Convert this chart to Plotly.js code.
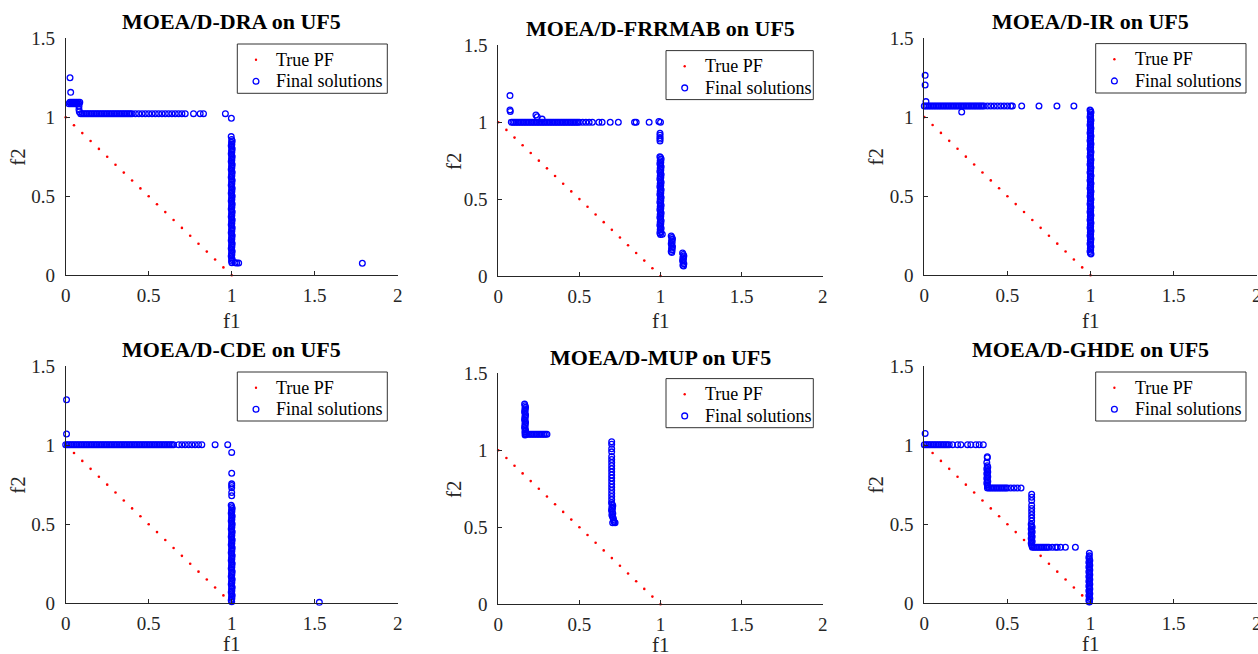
<!DOCTYPE html>
<html>
<head>
<meta charset="utf-8">
<script src="https://cdn.plot.ly/plotly-3.0.1.min.js"></script>
<style>html,body{margin:0;padding:0;background:#fff;}#chart{width:1258px;height:654px;}</style>
</head>
<body>
<div id="chart"></div>
<script>
// ---------------- data ----------------
const algorithms = ['MOEA/D-DRA','MOEA/D-FRRMAB','MOEA/D-IR','MOEA/D-CDE','MOEA/D-MUP','MOEA/D-GHDE'];
const problem = 'UF5';
const seriesNames = ['True PF','Final solutions'];
const xTickVals = [0,0.5,1,1.5,2];
const xTickText = ['0','0.5','1','1.5','2'];
const yTickVals = [0,0.5,1,1.5];
const yTickText = ['0','0.5','1','1.5'];

// True Pareto front of UF5 (21 points)
const pf_f1 = [0,0.05,0.1,0.15,0.2,0.25,0.3,0.35,0.4,0.45,0.5,0.55,0.6,0.65,0.7,0.75,0.8,0.85,0.9,0.95,1];
const pf_f2 = [1,0.95,0.9,0.85,0.8,0.75,0.7,0.65,0.6,0.55,0.5,0.45,0.4,0.35,0.3,0.25,0.2,0.15,0.1,0.05,0];

// MOEA/D-DRA
const dra_f1 = [
0.026,0.03,
0.02,0.025,0.03,0.035,0.04,0.045,0.05,0.055,0.06,0.065,0.07,0.075,0.08,0.085,
0.08,0.08,0.082,
0.09,0.10,0.11,0.12,0.13,0.14,0.15,0.16,0.17,0.18,0.19,0.20,0.21,0.22,0.23,0.24,0.25,0.26,0.27,0.28,0.29,0.30,0.31,0.32,0.33,0.34,0.35,0.36,0.37,0.38,0.39,0.40,
0.42,0.44,0.46,0.48,0.50,0.52,0.54,0.56,0.58,0.60,0.62,0.64,0.66,0.68,0.70,0.72,0.77,0.81,0.83,
0.962,0.998,
0.997,1.0,1.003,0.999,1.001,0.997,1.0,1.003,0.999,1.001,
0.997,1.0,1.003,0.999,1.001,0.997,1.0,1.003,0.999,1.001,
0.997,1.0,1.003,0.999,1.001,0.997,1.0,1.003,0.999,1.001,
0.997,1.0,1.003,0.999,1.001,0.997,1.0,1.003,0.999,1.001,
0.997,1.0,1.003,0.999,1.001,0.997,1.0,1.003,0.999,1.001,
0.997,1.0,1.003,0.999,1.001,0.997,1.0,1.003,0.999,1.001,
0.997,1.0,1.003,0.999,1.001,0.997,1.0,1.003,0.999,1.001,
0.997,1.0,1.003,0.999,1.001,0.997,1.0,1.003,0.999,1.001,
1.02,1.03,1.042,1.787];
const dra_f2 = [
1.25,1.158,
1.085,1.095,1.085,1.095,1.085,1.095,1.085,1.095,1.085,1.095,1.085,1.095,1.085,1.095,
1.07,1.05,1.035,
1.023,1.023,1.023,1.023,1.023,1.023,1.023,1.023,1.023,1.023,
1.023,1.023,1.023,1.023,1.023,1.023,1.023,1.023,1.023,1.023,
1.023,1.023,1.023,1.023,1.023,1.023,1.023,1.023,1.023,1.023,
1.023,1.023,1.023,1.023,1.023,1.023,1.023,1.023,1.023,1.023,
1.023,1.023,1.023,1.023,1.023,1.023,1.023,1.023,1.023,1.023,
1.023,
1.023,0.994,
0.878,0.86,0.85,0.84,0.83,0.82,0.81,0.80,0.79,0.78,
0.77,0.76,0.75,0.74,0.73,0.72,0.71,0.70,0.69,0.68,
0.67,0.66,0.65,0.64,0.63,0.62,0.61,0.60,0.59,0.58,
0.57,0.56,0.55,0.54,0.53,0.52,0.51,0.50,0.49,0.48,
0.47,0.46,0.45,0.44,0.43,0.42,0.41,0.40,0.39,0.38,
0.37,0.36,0.35,0.34,0.33,0.32,0.31,0.30,0.29,0.28,
0.27,0.26,0.25,0.24,0.23,0.22,0.21,0.20,0.19,0.18,
0.17,0.16,0.15,0.14,0.13,0.12,0.11,0.10,0.09,0.08,
0.08,0.078,0.078,0.076];

// MOEA/D-FRRMAB
const frr_f1 = [
0.072,0.072,0.074,
0.08,0.09,0.10,0.11,0.12,0.13,0.14,0.15,0.16,0.17,
0.18,0.19,0.20,0.21,0.22,0.23,0.24,0.25,0.26,0.27,
0.28,0.29,0.30,0.31,0.32,0.33,0.34,0.35,0.36,0.37,
0.38,0.39,0.40,0.41,0.42,0.43,0.44,0.45,0.46,0.47,
0.48,0.49,0.50,
0.52,0.54,0.56,0.58,0.62,0.64,0.69,0.74,0.84,0.85,0.93,0.99,1.0,
0.232,0.24,0.27,
0.997,0.997,0.997,0.997,0.997,
0.996,1.0,1.004,0.998,1.002,0.996,1.0,1.004,0.998,1.002,
0.996,1.0,1.004,0.998,1.002,0.996,1.0,1.004,0.998,1.002,
0.996,1.0,1.004,0.998,1.002,0.996,1.0,1.004,0.998,1.002,
0.996,1.0,1.004,0.998,1.002,0.996,1.0,1.004,0.998,1.002,
0.996,1.0,1.004,0.998,1.002,0.996,1.0,1.004,0.998,1.002,
0.996,1.0,
1.011,
1.066,1.07,1.074,1.068,1.072,1.066,1.07,1.074,1.068,1.072,1.066,1.07,
1.136,1.14,1.144,1.138,1.142,1.136,1.14,1.144,1.138,1.142];
const frr_f2 = [
1.173,1.08,1.07,
1.0,1.0,1.0,1.0,1.0,1.0,1.0,1.0,1.0,1.0,
1.0,1.0,1.0,1.0,1.0,1.0,1.0,1.0,1.0,1.0,
1.0,1.0,1.0,1.0,1.0,1.0,1.0,1.0,1.0,1.0,
1.0,1.0,1.0,1.0,1.0,1.0,1.0,1.0,1.0,1.0,
1.0,1.0,1.0,
1.0,1.0,1.0,1.0,1.0,1.0,1.0,1.0,1.0,1.0,1.0,1.005,1.0,
1.047,1.035,1.02,
0.928,0.915,0.90,0.89,0.878,
0.776,0.77,0.76,0.75,0.74,0.73,0.72,0.71,0.70,0.69,
0.68,0.67,0.66,0.65,0.64,0.63,0.62,0.61,0.60,0.59,
0.58,0.57,0.56,0.55,0.54,0.53,0.52,0.51,0.50,0.49,
0.48,0.47,0.46,0.45,0.44,0.43,0.42,0.41,0.40,0.39,
0.38,0.37,0.36,0.35,0.34,0.33,0.32,0.31,0.30,0.29,
0.28,0.27,
0.271,
0.26,0.25,0.24,0.23,0.22,0.21,0.20,0.19,0.18,0.17,0.16,0.152,
0.15,0.14,0.13,0.12,0.11,0.10,0.09,0.08,0.07,0.065];

// MOEA/D-IR
const ir_f1 = [
0.005,0.005,0.01,
0.00,0.01,0.02,0.03,0.04,0.05,0.06,0.07,0.08,0.09,
0.10,0.11,0.12,0.13,0.14,0.15,0.16,0.17,0.18,0.19,
0.20,0.21,0.22,0.23,0.24,0.25,0.26,0.27,0.28,0.29,
0.30,0.31,0.32,0.33,0.34,0.35,
0.36,0.38,0.40,0.42,0.44,0.46,0.48,0.50,0.52,0.53,0.586,0.69,0.798,0.90,
0.225,
0.997,1.0,1.003,0.999,1.001,0.997,1.0,1.003,0.999,1.001,
0.997,1.0,1.003,0.999,1.001,0.997,1.0,1.003,0.999,1.001,
0.997,1.0,1.003,0.999,1.001,0.997,1.0,1.003,0.999,1.001,
0.997,1.0,1.003,0.999,1.001,0.997,1.0,1.003,0.999,1.001,
0.997,1.0,1.003,0.999,1.001,0.997,1.0,1.003,0.999,1.001,
0.997,1.0,1.003,0.999,1.001,0.997,1.0,1.003,0.999,1.001,
0.997,1.0,1.003,0.999,1.001,0.997,1.0,1.003,0.999,1.001,
0.997,1.0,1.003,0.999,1.001,0.997,1.0,1.003,0.999,1.001,
0.997,1.0,1.003,0.999,1.001,0.997,1.0,1.003,0.999,1.001,
0.997,1.0,1.003];
const ir_f2 = [
1.264,1.203,1.098,
1.07,1.07,1.07,1.07,1.07,1.07,1.07,1.07,1.07,1.07,
1.07,1.07,1.07,1.07,1.07,1.07,1.07,1.07,1.07,1.07,
1.07,1.07,1.07,1.07,1.07,1.07,1.07,1.07,1.07,1.07,
1.07,1.07,1.07,1.07,1.07,1.07,
1.07,1.07,1.07,1.07,1.07,1.07,1.07,1.07,1.07,1.07,1.07,1.07,1.07,1.07,
1.032,
1.045,1.04,1.03,1.02,1.01,1.00,0.99,0.98,0.97,0.96,
0.95,0.94,0.93,0.92,0.91,0.90,0.89,0.88,0.87,0.86,
0.85,0.84,0.83,0.82,0.81,0.80,0.79,0.78,0.77,0.76,
0.75,0.74,0.73,0.72,0.71,0.70,0.69,0.68,0.67,0.66,
0.65,0.64,0.63,0.62,0.61,0.60,0.59,0.58,0.57,0.56,
0.55,0.54,0.53,0.52,0.51,0.50,0.49,0.48,0.47,0.46,
0.45,0.44,0.43,0.42,0.41,0.40,0.39,0.38,0.37,0.36,
0.35,0.34,0.33,0.32,0.31,0.30,0.29,0.28,0.27,0.26,
0.25,0.24,0.23,0.22,0.21,0.20,0.19,0.18,0.17,0.16,
0.15,0.14,0.135];

// MOEA/D-CDE
const cde_f1 = [
0.005,0.005,
0.00,0.01,0.02,0.03,0.04,0.05,0.06,0.07,0.08,0.09,
0.10,0.11,0.12,0.13,0.14,0.15,0.16,0.17,0.18,0.19,
0.20,0.21,0.22,0.23,0.24,0.25,0.26,0.27,0.28,0.29,
0.30,0.31,0.32,0.33,0.34,0.35,0.36,0.37,0.38,0.39,
0.40,0.41,0.42,0.43,0.44,0.45,0.46,0.47,0.48,0.49,
0.50,0.51,0.52,0.53,0.54,0.55,0.56,0.57,0.58,0.59,
0.60,0.61,0.62,0.63,0.64,0.65,
0.68,0.70,0.72,0.74,0.76,0.78,0.80,0.82,0.90,0.976,
1.0,1.0,1.0,1.0,1.0,1.0,1.0,
0.997,1.0,1.003,0.999,1.001,0.997,1.0,1.003,0.999,1.001,
0.997,1.0,1.003,0.999,1.001,0.997,1.0,1.003,0.999,1.001,
0.997,1.0,1.003,0.999,1.001,0.997,1.0,1.003,0.999,1.001,
0.997,1.0,1.003,0.999,1.001,0.997,1.0,1.003,0.999,1.001,
0.997,1.0,1.003,0.999,1.001,0.997,1.0,1.003,0.999,1.001,
0.997,1.0,1.003,0.999,1.001,0.997,1.0,1.003,0.999,1.001,
0.997,1.0,
1.528];
const cde_f2 = [
1.287,1.07,
1.003,1.003,1.003,1.003,1.003,1.003,1.003,1.003,1.003,1.003,
1.003,1.003,1.003,1.003,1.003,1.003,1.003,1.003,1.003,1.003,
1.003,1.003,1.003,1.003,1.003,1.003,1.003,1.003,1.003,1.003,
1.003,1.003,1.003,1.003,1.003,1.003,1.003,1.003,1.003,1.003,
1.003,1.003,1.003,1.003,1.003,1.003,1.003,1.003,1.003,1.003,
1.003,1.003,1.003,1.003,1.003,1.003,1.003,1.003,1.003,1.003,
1.003,1.003,1.003,1.003,1.003,1.003,
1.003,1.003,1.003,1.003,1.003,1.003,1.003,1.003,1.003,1.003,
0.954,0.822,0.755,0.745,0.73,0.70,0.68,
0.62,0.61,0.60,0.59,0.58,0.57,0.56,0.55,0.54,0.53,
0.52,0.51,0.50,0.49,0.48,0.47,0.46,0.45,0.44,0.43,
0.42,0.41,0.40,0.39,0.38,0.37,0.36,0.35,0.34,0.33,
0.32,0.31,0.30,0.29,0.28,0.27,0.26,0.25,0.24,0.23,
0.22,0.21,0.20,0.19,0.18,0.17,0.16,0.15,0.14,0.13,
0.12,0.11,0.10,0.09,0.08,0.07,0.06,0.05,0.04,0.03,
0.02,0.01,
0.006];

// MOEA/D-MUP
const mup_f1 = [
0.162,0.165,0.168,0.164,0.166,0.162,0.165,0.168,0.164,0.166,
0.162,0.165,0.168,0.164,0.166,0.162,0.165,0.168,0.164,0.166,0.165,
0.17,0.18,0.19,0.20,0.21,0.22,0.23,0.24,0.25,0.26,0.27,0.28,0.29,0.30,
0.699,0.699,0.699,0.699,0.699,0.699,0.699,0.699,0.699,0.699,
0.699,0.699,0.699,0.699,0.699,0.699,0.699,0.699,0.699,
0.698,0.702,0.706,0.700,0.704,0.698,0.702,0.706,0.700,0.704,0.708,0.710,0.712,0.705,
0.72,0.715];
const mup_f2 = [
1.30,1.29,1.28,1.27,1.26,1.25,1.24,1.23,1.22,1.21,
1.20,1.19,1.18,1.17,1.16,1.15,1.14,1.13,1.12,1.11,1.10,
1.104,1.104,1.104,1.104,1.104,1.104,1.104,1.104,1.104,1.104,1.104,1.104,1.104,1.104,
1.056,1.04,1.01,0.99,0.96,0.94,0.92,0.90,0.88,0.86,
0.84,0.82,0.80,0.78,0.76,0.74,0.72,0.70,0.68,
0.66,0.65,0.64,0.63,0.62,0.61,0.60,0.59,0.58,0.57,0.56,0.55,0.54,0.53,
0.53,0.535];

// MOEA/D-GHDE
const ghde_f1 = [
0.005,
0.00,0.01,0.02,0.03,0.04,0.05,0.06,0.07,0.08,0.09,0.10,0.11,0.12,0.13,0.14,0.15,
0.17,0.20,0.22,0.26,0.28,0.31,0.33,0.355,
0.379,0.379,0.376,0.379,0.382,0.376,0.379,0.382,0.376,0.379,0.382,0.376,0.379,0.382,0.376,0.379,0.382,
0.38,0.39,0.40,0.41,0.42,0.43,0.44,0.45,0.46,0.47,0.48,0.49,0.50,
0.52,0.54,0.56,0.582,
0.646,0.646,0.646,0.646,0.646,0.646,0.646,0.646,0.646,
0.643,0.646,0.649,0.643,0.646,0.649,0.643,0.646,0.649,0.643,0.646,0.649,0.643,0.646,0.649,
0.65,0.66,0.67,0.68,0.69,0.70,0.71,0.72,0.73,0.74,0.75,
0.77,0.79,0.80,0.82,0.849,0.909,
0.993,0.993,0.990,0.993,0.996,0.990,0.993,0.996,0.990,0.993,
0.996,0.990,0.993,0.996,0.990,0.993,0.996,0.990,0.993,0.996,
0.990,0.993,0.996,0.990,0.993,0.996,0.990,0.993,0.996,0.990,
0.993,0.993];
const ghde_f2 = [
1.074,
1.003,1.003,1.003,1.003,1.003,1.003,1.003,1.003,1.003,1.003,1.003,1.003,1.003,1.003,1.003,1.003,
1.003,1.003,1.003,1.003,1.003,1.003,1.003,1.003,
0.927,0.92,0.89,0.87,0.86,0.85,0.84,0.83,0.82,0.81,0.80,0.79,0.78,0.77,0.76,0.75,0.74,
0.729,0.729,0.729,0.729,0.729,0.729,0.729,0.729,0.729,0.729,0.729,0.729,0.729,
0.729,0.729,0.729,0.729,
0.689,0.67,0.65,0.62,0.60,0.58,0.56,0.54,0.52,
0.50,0.49,0.48,0.47,0.46,0.45,0.44,0.43,0.42,0.41,0.40,0.39,0.38,0.37,0.36,
0.354,0.354,0.354,0.354,0.354,0.354,0.354,0.354,0.354,0.354,0.354,
0.354,0.354,0.354,0.354,0.354,0.354,
0.316,0.30,0.29,0.28,0.27,0.26,0.25,0.24,0.23,0.22,
0.21,0.20,0.19,0.18,0.17,0.16,0.15,0.14,0.13,0.12,
0.11,0.10,0.09,0.08,0.07,0.06,0.05,0.04,0.03,0.02,
0.01,0.008];

const solutions_f1 = [dra_f1, frr_f1, ir_f1, cde_f1, mup_f1, ghde_f1];
const solutions_f2 = [dra_f2, frr_f2, ir_f2, cde_f2, mup_f2, ghde_f2];

// ---------------- layout (pixel positions -> paper fractions) ----------------
const W = 1258, H = 654;
const px = v => v / W;
const py = v => 1 - v / H;
// plot boxes in pixels [left, right, top, bottom]
const boxes = [
  [65.7, 397.7, 38.3, 275.3],
  [498.3, 822.7, 45.3, 276.0],
  [924.3, 1256.7, 38.0, 275.3],
  [65.7, 397.7, 366.0, 603.3],
  [498.3, 822.7, 373.3, 604.3],
  [924.3, 1256.7, 366.0, 603.3]
];
// legend boxes in pixels [left, right, top, bottom]
const legendBoxes = [
  [237.3, 387.3, 44.0, 93.3],
  [666.0, 813.3, 50.6, 99.6],
  [1095.7, 1246.0, 43.6, 93.0],
  [237.3, 387.3, 372.0, 421.0],
  [666.0, 813.3, 378.6, 427.7],
  [1095.7, 1246.0, 372.0, 421.0]
];
const titleY = [21.7, 28.8, 21.7, 349.2, 357.5, 349.2];
const f1LabelY = [321.2, 321.2, 321.2, 644.0, 644.5, 644.0];
const f2LabelX = [18.0, 453.3, 875.8, 18.0, 453.3, 875.8];

const serif = 'Liberation Serif';
const axisColor = '#262626';
const pfColor = '#ff0000';
const solColor = '#0000ff';

const traces = [];
const layout = {
  width: W, height: H,
  margin: {l:0, r:0, t:0, b:0},
  paper_bgcolor: '#ffffff',
  plot_bgcolor: 'rgba(0,0,0,0)',
  font: {family: serif},
  showlegend: false,
  annotations: [],
  shapes: []
};

algorithms.forEach((alg, i) => {
  const n = i + 1;
  const xa = n === 1 ? 'x' : 'x' + n;
  const ya = n === 1 ? 'y' : 'y' + n;
  const b = boxes[i];

  traces.push({
    type: 'scatter', mode: 'markers', name: seriesNames[0],
    x: pf_f1, y: pf_f2, xaxis: xa, yaxis: ya,
    cliponaxis: false,
    marker: {symbol: 'circle', size: 2.6, color: pfColor, line: {width: 0}},
    hoverinfo: 'skip'
  });
  traces.push({
    type: 'scatter', mode: 'markers', name: seriesNames[1],
    x: solutions_f1[i], y: solutions_f2[i], xaxis: xa, yaxis: ya,
    cliponaxis: false,
    marker: {symbol: 'circle-open', size: 5.7, color: solColor, line: {width: 1.3, color: solColor}},
    hoverinfo: 'skip'
  });

  const common = {
    showgrid: false, zeroline: false, showline: true,
    linecolor: axisColor, linewidth: 1,
    ticks: 'inside', ticklen: 4, tickwidth: 1, tickcolor: axisColor,
    tickfont: {family: serif, size: 19, color: axisColor},
    ticklabeloverflow: 'allow',
    automargin: false, fixedrange: true
  };
  layout[n === 1 ? 'xaxis' : 'xaxis' + n] = Object.assign({}, common, {
    domain: [px(b[0]), px(b[1])], anchor: ya, range: [0, 2],
    tickmode: 'array', tickvals: xTickVals, ticktext: xTickText,
    ticklabelstandoff: 3
  });
  layout[n === 1 ? 'yaxis' : 'yaxis' + n] = Object.assign({}, common, {
    domain: [py(b[3]), py(b[2])], anchor: xa, range: [0, 1.5],
    tickmode: 'array', tickvals: yTickVals, ticktext: yTickText,
    ticklabelstandoff: 6
  });

  // legend box (MATLAB style)
  const L = legendBoxes[i];
  const row1 = L[2] + 15.7, row2 = L[2] + 37.3;
  const symX = L[0] + 18.7, textX = L[0] + 37;
  layout.shapes.push({
    type: 'rect', xref: 'paper', yref: 'paper', layer: 'above',
    x0: px(L[0]), x1: px(L[1]), y0: py(L[3]), y1: py(L[2]),
    line: {color: '#333333', width: 1}, fillcolor: '#ffffff'
  });
  layout.shapes.push({
    type: 'circle', xref: 'paper', yref: 'paper', layer: 'above',
    x0: px(symX - 1.2), x1: px(symX + 1.2), y0: py(row1 + 1.2), y1: py(row1 - 1.2),
    line: {width: 0}, fillcolor: pfColor
  });
  layout.shapes.push({
    type: 'circle', xref: 'paper', yref: 'paper', layer: 'above',
    x0: px(symX - 2.9), x1: px(symX + 2.9), y0: py(row2 + 2.9), y1: py(row2 - 2.9),
    line: {width: 1.3, color: solColor}, fillcolor: 'rgba(0,0,0,0)'
  });
  [row1, row2].forEach((ry, k) => {
    layout.annotations.push({
      text: seriesNames[k], showarrow: false, xref: 'paper', yref: 'paper',
      x: px(textX), y: py(ry), xanchor: 'left', yanchor: 'middle',
      font: {family: serif, size: 18, color: '#000000'}
    });
  });

  layout.annotations.push({
    text: alg + ' on ' + problem, showarrow: false,
    xref: 'paper', yref: 'paper',
    x: px((b[0] + b[1]) / 2), y: py(titleY[i]),
    xanchor: 'center', yanchor: 'middle',
    font: {family: serif, size: 22, color: '#000000', weight: 'bold'}
  });
  layout.annotations.push({
    text: 'f1', showarrow: false, xref: 'paper', yref: 'paper',
    x: px((b[0] + b[1]) / 2), y: py(f1LabelY[i]),
    xanchor: 'center', yanchor: 'middle',
    font: {family: serif, size: 21, color: axisColor}
  });
  layout.annotations.push({
    text: 'f2', showarrow: false, xref: 'paper', yref: 'paper',
    x: px(f2LabelX[i]), y: py((b[2] + b[3]) / 2),
    xanchor: 'center', yanchor: 'middle', textangle: -90,
    font: {family: serif, size: 21, color: axisColor}
  });
});

Plotly.newPlot('chart', traces, layout, {staticPlot: true, displayModeBar: false});
</script>
</body>
</html>
